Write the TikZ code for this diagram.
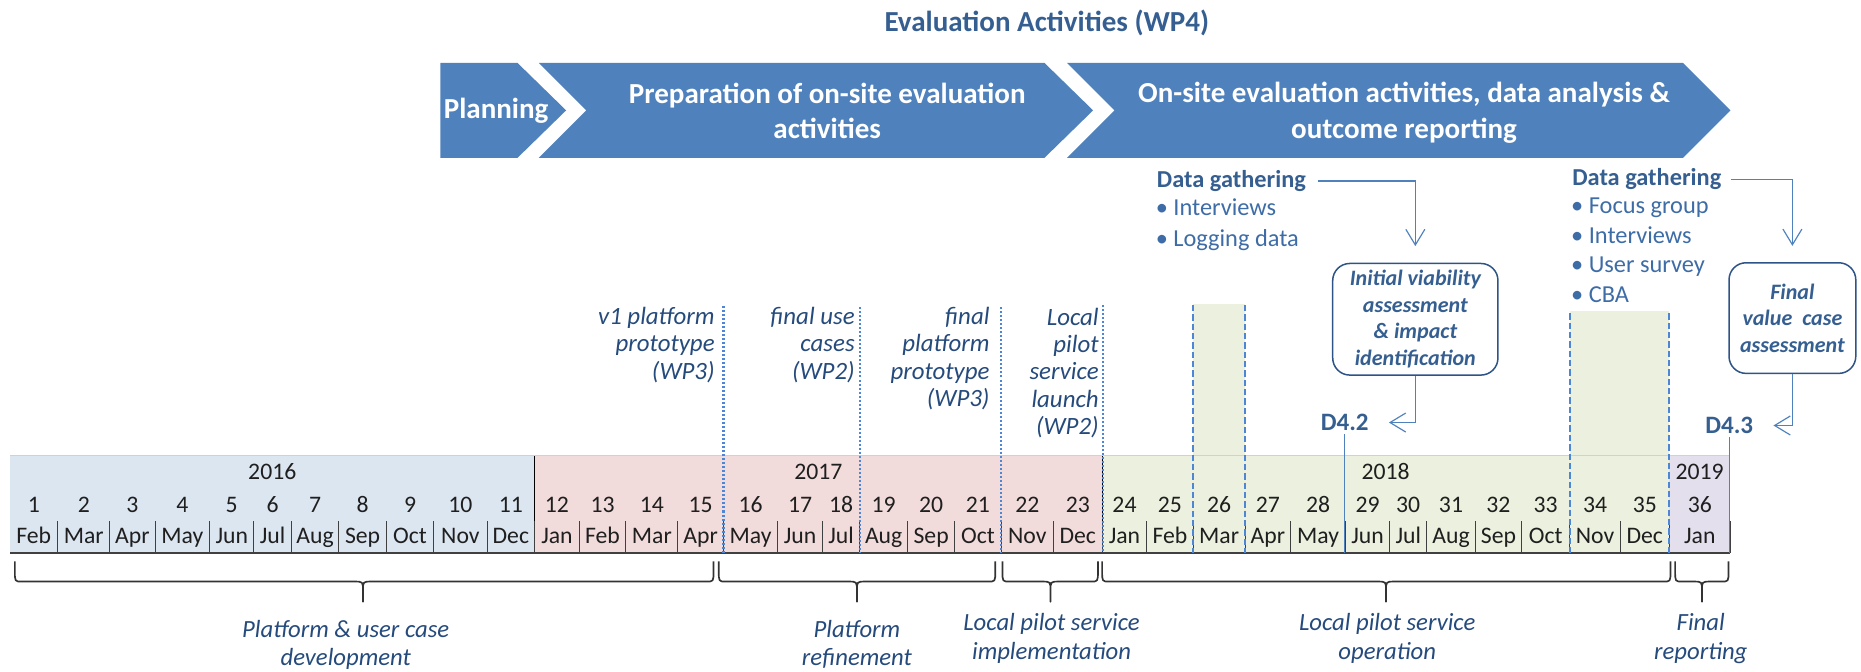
\documentclass[tikz,border=0pt]{standalone}
\usepackage{fontspec}
\setmainfont{Carlito}
\usepackage{tikz}
\usetikzlibrary{arrows.meta}
\usepackage{xcolor}

\definecolor{ChevBlue}{HTML}{4F81BD}
\definecolor{HeadBlue}{HTML}{365F91}
\definecolor{ItemBlue}{HTML}{3D6CA6}
\definecolor{NoteBlue}{HTML}{254A7C}
\definecolor{BoxBlue}{HTML}{2E5487}
\definecolor{LineBlue}{HTML}{4E86D6}
\definecolor{YearA}{HTML}{DCE6F1}
\definecolor{YearB}{HTML}{F2DCDB}
\definecolor{YearC}{HTML}{EBF1DE}
\definecolor{YearD}{HTML}{E4DFEC}
\definecolor{GridGray}{HTML}{404040}

\tikzset{
  headline/.style={font=\fontsize{17.4}{21}\selectfont\bfseries, text=HeadBlue},
  chevron/.style={fill=ChevBlue},
  chevtext/.style={font=\fontsize{17.4}{21}\selectfont\bfseries, text=white, align=center},
  cellText/.style={font=\fontsize{14.2}{17}\selectfont, text=black!88, inner sep=0pt, text height=1.6ex, text depth=0.45ex},
  monthRule/.style={GridGray, line width=0.6pt},
  yearRule/.style={black, line width=0.7pt},
  msLine/.style={LineBlue, line width=1.4pt, dash pattern=on 1.2pt off 1.2pt},
  bandLine/.style={LineBlue, line width=1.4pt, dash pattern=on 3.8pt off 1.8pt},
  msLabel/.style={font=\fontsize{14.9}{16.4}\selectfont\itshape, text=NoteBlue, align=right, inner sep=0pt},
  phaseLabel/.style={font=\fontsize{14.8}{17.1}\selectfont\itshape, text=NoteBlue, align=center, inner sep=0pt},
  phaseBrace/.style={draw=black!80, line width=1pt, line join=round},
  dgHead/.style={font=\fontsize{14.6}{17}\selectfont\bfseries, text=HeadBlue, inner sep=2pt},
  dgItem/.style={font=\fontsize{14.6}{17}\selectfont, text=ItemBlue, inner sep=0pt},
  deliv/.style={font=\fontsize{15}{18}\selectfont\bfseries, text=HeadBlue, inner sep=2pt},
  outcomeBox/.style={draw=BoxBlue, line width=0.9pt, rounded corners=0.36cm, align=center,
    font=\fontsize{13.2}{15.9}\selectfont\bfseries\itshape, text=HeadBlue, inner sep=0pt},
  conn/.style={ChevBlue, line width=0.7pt, -{Straight Barb[length=0.33cm, width=0.4cm]}},
  delLine/.style={ChevBlue, line width=0.7pt}
}

\begin{document}
\begin{tikzpicture}[x=0.025cm, y=-0.025cm]
    \useasboundingbox (0,0) rectangle (1568,566);
    \coordinate (TableBottom) at (0,466);

    % Title
    \node[headline] (Title) at (882,19) {Evaluation Activities (WP4)};

    % Draw the three phase chevrons
    \fill[chevron] (371,53) -- (436,53) -- (477,93) -- (436,133) -- (371,133) -- cycle;
    \fill[chevron] (454,53) -- (880,53) -- (921,93) -- (880,133) -- (454,133) -- (494,93) -- cycle;
    \fill[chevron] (899,53) -- (1418,53) -- (1458,93) -- (1418,133) -- (899,133) -- (939,93) -- cycle;
    \node[chevtext] (Planning) at (418,93) {Planning};
    \node[chevtext] (Preparation) at (697,93.5) {Preparation of on-site evaluation\\activities};
    \node[chevtext] (OnSite) at (1183,95) {On-site evaluation activities, data analysis \&\\outcome reporting};

    % Bands for the two data gathering periods
    \fill[YearC] (1005.2,256) rectangle (1049.1,384);
    \fill[YearC] (1322.6,262) rectangle (1406.4,384);

    % Table background, one colour per year
    \fill[YearA] (8.3,384) rectangle (450.4,466);
    \fill[YearB] (450.4,384) rectangle (928.6,466);
    \fill[YearC] (928.6,384) rectangle (1406.4,466);
    \fill[YearD] (1406.4,384) rectangle (1457.9,466);
    \draw[black!18, line width=0.6pt] (8.3,384) -- (1457.9,384);
    \draw[yearRule] (450.4,384) -- (450.4,466);
    \draw[yearRule] (928.6,384) -- (928.6,466);

    % Project months: number, month name and divider
    \foreach \n/\m/\l/\r in {1/Feb/8.3/48.6, 2/Mar/48.6/92.6, 3/Apr/92.6/130.6, 4/May/130.6/176.6,
        5/Jun/176.6/213.9, 6/Jul/213.9/245.5, 7/Aug/245.5/285.5, 8/Sep/285.5/325.5, 9/Oct/325.5/365.5,
        10/Nov/365.5/410.4, 11/Dec/410.4/450.4, 12/Jan/450.4/488.1, 13/Feb/488.1/527.2, 14/Mar/527.2/571.2,
        15/Apr/571.2/609.5, 16/May/609.5/655.4, 17/Jun/655.4/692.8, 18/Jul/692.8/724.4, 19/Aug/724.4/764.7,
        20/Sep/764.7/804.4, 21/Oct/804.4/843.6, 22/Nov/843.6/887.6, 23/Dec/887.6/928.6, 24/Jan/928.6/966.3,
        25/Feb/966.3/1005.2, 26/Mar/1005.2/1049.1, 27/Apr/1049.1/1087.4, 28/May/1087.4/1133.6,
        29/Jun/1133.6/1170.9, 30/Jul/1170.9/1202.1, 31/Aug/1202.1/1243, 32/Sep/1243/1282.1,
        33/Oct/1282.1/1322.6, 34/Nov/1322.6/1365.2, 35/Dec/1365.2/1406.4, 36/Jan/1406.4/1457.9}
    {
        \node[cellText] (Num\n) at ({(\l+\r)/2},428) {\n};
        \node[cellText] (Mon\n) at ({(\l+\r)/2},454) {\m};
        \draw[monthRule] (\r,439) -- (\r,466);
    }
    \draw[GridGray, line width=1.1pt] (8.3,466) -- (1457.9,466);

    % Year labels
    \node[cellText] (Y2016) at (229.4,400) {2016};
    \node[cellText] (Y2017) at (689.5,400) {2017};
    \node[cellText] (Y2018) at (1167.5,400) {2018};
    \node[cellText] (Y2019) at (1432,400) {2019};

    % Milestones: dotted markers and labels
    \foreach \x/\t in {609.5/258, 724.4/259, 843.6/259, 929.6/257}
        \draw[msLine] (\x,\t) -- (\x,466);
    \node[msLabel, anchor=north east] (MsProto) at (602.4,258.5) {v1 platform\\prototype\\(WP3)};
    \node[msLabel, anchor=north east] (MsCases) at (720.4,258.5) {final use\\cases\\(WP2)};
    \node[msLabel, anchor=north east] (MsFinal) at (834,258.5) {final\\platform\\prototype\\(WP3)};
    \node[msLabel, anchor=north east] (MsLaunch) at (926,259) {Local\\pilot\\service\\launch\\(WP2)};

    % Dashed edges of the gathering bands
    \foreach \x/\t in {1005.2/257, 1049.1/257, 1322.6/264, 1406.4/264}
        \draw[bandLine] (\x,\t) -- (\x,466);

    % Data gathering lists
    \node[dgHead, anchor=base west] (GatherA) at (971.7,158) {Data gathering};
    \foreach \t [count=\i] in {Interviews, Logging data}
        \node[dgItem, anchor=base west] (ItemA\i) at (973.5,{156+25.8*\i}) {\textbullet\ \t};
    \node[dgHead, anchor=base west] (GatherB) at (1321.7,156.5) {Data gathering};
    \foreach \t [count=\i] in {Focus group, Interviews, User survey, CBA}
        \node[dgItem, anchor=base west] (ItemB\i) at (1323.5,{155.3+24.9*\i}) {\textbullet\ \t};

    % Assessment boxes and deliverables
    \node[outcomeBox, minimum width=3.48cm, minimum height=2.35cm] (ViabilityBox) at (1192.5,269)
        {Initial viability\\assessment\\\& impact\\identification};
    \node[outcomeBox, minimum width=2.67cm, minimum height=2.33cm] (ValueBox) at (1510.2,268)
        {Final\\value\ \ case\\assessment};
    \node[deliv] (D42) at (1133,356) {D4.2};
    \node[deliv] (D43) at (1457,358.5) {D4.3};
    \draw[delLine] (D42.south) -- (D42.south |- TableBottom);
    \draw[delLine] (D43.south) -- (D43.south |- TableBottom);

    % Connectors
    \draw[conn, shorten <=5pt, shorten >=0.35cm] (GatherA.east) -| (ViabilityBox.north);
    \draw[conn, shorten >=0.35cm] (ViabilityBox.south) |- (D42.east);
    \draw[conn, shorten <=3.5pt, shorten >=0.34cm] (GatherB.east) -| (ValueBox.north);
    \draw[conn, shorten >=0.35cm] (ValueBox.south) |- (D43.east);

    % Phase braces under the table
    \foreach \a/\m/\b in {12.5/305.8/601.2, 605.6/722/838.6, 844.6/885.1/925.1, 928.6/1167.8/1407.5, 1411.4/1434/1456.4}
        \draw[phaseBrace] (\a,473) -- (\a,481) .. controls (\a,490) .. ({\a+6},490) -- ({\m-7},490)
            .. controls (\m,490) .. (\m,498) -- (\m,507) -- (\m,498) .. controls (\m,490) .. ({\m+7},490)
            -- ({\b-6},490) .. controls (\b,490) .. (\b,481) -- (\b,473);

    % Phase labels
    \node[phaseLabel, anchor=north] (PhaseDev) at (291.3,522) {Platform \& user case\\development};
    \node[phaseLabel, anchor=north] (PhaseRefine) at (722,522) {Platform\\refinement};
    \node[phaseLabel, anchor=north] (PhaseImpl) at (886,516.5) {Local pilot service\\implementation};
    \node[phaseLabel, anchor=north] (PhaseOper) at (1168.8,516.5) {Local pilot service\\operation};
    \node[phaseLabel, anchor=north] (PhaseReport) at (1433,516.5) {Final\\reporting};
\end{tikzpicture}
\end{document}
